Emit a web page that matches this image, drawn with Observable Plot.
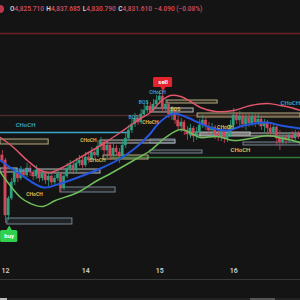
<!DOCTYPE html>
<html><head><meta charset="utf-8">
<script src="https://cdn.jsdelivr.net/npm/d3@7"></script>
<script src="https://cdn.jsdelivr.net/npm/@observablehq/plot@0.6"></script>
<style>
html,body{margin:0;padding:0;background:#141414;width:300px;height:300px;overflow:hidden;}
#wrap{position:relative;width:300px;height:300px;}
#hdr{position:absolute;top:5px;left:10px;font:600 6.5px Roboto,sans-serif;line-height:8px;white-space:nowrap;}
#hdr .k{color:#d1d4dc}#hdr .v{color:#d2485a;margin-right:2.5px}
#dot{position:absolute;left:-4px;top:5px;width:8px;height:8px;border-radius:50%;background:#b8384e;}
#sep{position:absolute;left:0;top:279px;width:300px;height:1px;background:#383838;}
#scroll{position:absolute;left:0;top:298px;width:300px;height:2px;background:#222;}
#thumb{position:absolute;left:250px;top:298px;width:25px;height:2px;background:#555;}
#thumb0{position:absolute;left:0;top:298px;width:7px;height:2px;background:#bbb;}
#chart{position:absolute;left:0;top:0;}
</style></head>
<body><div id="wrap">
<div id="chart"></div>
<div id="dot"></div>
<div id="hdr"><span class="k">O</span><span class="v">4,825.710</span><span class="k">H</span><span class="v">4,837.685</span><span class="k">L</span><span class="v">4,830.790</span><span class="k">C</span><span class="v">4,831.610</span><span class="v">−4.090 (−0.08%)</span></div>
<div id="sep"></div><div id="scroll"></div><div id="thumb"></div><div id="thumb0"></div>
</div>
<script>
// ---- data (hourly bars, bar index -1 .. 95) ----
const firstOpen = 4811;
const closes = [4806,4751,4768,4784,4794,4788,4796,4791,4798,4794,
4790,4796,4788,4792,4786,4790,4784,4788,4792,4778,
4790,4798,4801,4796,4803,4806,4801,4809,4806,4814,
4811,4820,4824,4816,4821,4811,4818,4814,4810,4821,
4828,4836,4842,4848,4844,4852,4856,4860,4856,4862,
4866,4870,4858,4862,4852,4856,4846,4840,4844,4836,
4832,4838,4830,4834,4841,4846,4840,4836,4839,4832,
4829,4834,4828,4832,4841,4851,4846,4850,4842,4848,
4843,4849,4844,4847,4840,4844,4838,4834,4839,4828,
4824,4829,4826,4831,4828,4832,4831];
const highs = [4816,4808,4770,4788,4798,4796,4800,4798,4803,4801,
4796,4801,4798,4796,4794,4794,4792,4791,4796,4794,
4794,4803,4806,4804,4808,4811,4809,4814,4813,4819,
4818,4826,4829,4826,4826,4823,4823,4821,4818,4826,
4833,4841,4848,4853,4851,4857,4862,4865,4864,4867,
4871,4875,4876,4867,4864,4860,4858,4850,4848,4846,
4840,4842,4840,4839,4847,4851,4849,4844,4843,4841,
4838,4838,4836,4837,4846,4858,4854,4855,4853,4852,
4852,4854,4852,4852,4849,4847,4846,4842,4843,4841,
4836,4833,4832,4834,4835,4836,4835];
const lows = [4803,4743,4746,4766,4781,4784,4786,4788,4789,4790,
4786,4787,4784,4785,4782,4780,4781,4780,4785,4774,
4776,4788,4794,4792,4794,4800,4798,4799,4803,4804,
4808,4809,4816,4811,4808,4806,4809,4811,4803,4808,
4818,4826,4833,4839,4841,4842,4849,4853,4853,4854,
4858,4862,4854,4854,4848,4846,4842,4836,4834,4831,
4826,4828,4824,4826,4831,4838,4836,4832,4829,4827,
4825,4825,4823,4824,4829,4838,4842,4840,4838,4836,
4839,4840,4839,4841,4836,4834,4833,4829,4830,4821,
4816,4821,4822,4823,4825,4826,4827];

// band lines (bar position, price)
const upperBar = [-1.6,2.6,7.1,11.4,14.6,17.8,25.3,30.8,36.3,40.5,43.8,47,50.3,53.5,56.8,60,63.2,68.1,74,79.5,85,89.2,92.4,95.7];
const upperVal = [4829,4819,4806,4796,4794,4798,4811,4821,4832,4841,4848,4854,4865,4871,4870,4865,4859,4855,4856,4861,4863,4861,4859,4856];
const midBar = [-1.6,4.9,12.3,17.8,24.3,30.8,37.3,41.5,43.8,47,49.3,51.9,54.5,59,63.2,67.5,72,77.2,85,89.2,95.7];
const midVal = [4806,4792,4779,4783,4790,4798,4808,4817,4823,4833,4842,4849,4853,4849,4843,4838,4836,4841,4844,4841,4838];
const lowerBar = [-1.6,1,4.9,8.1,12,16.2,23.4,29.8,34.1,41.5,47,51.9,56.8,61,63.2,68.8,74,79.5,85,90.2,95.7];
const lowerVal = [4794,4783,4769,4763,4760,4766,4774,4786,4793,4806,4816,4829,4837,4832,4829,4830,4826,4828,4831,4828,4824];

// horizontal levels
const levelPrice = [4933, 4851, 4834, 4809];
const levelFrom  = [-1.62, -1.62, -1.62, 34];
const levelTo    = [95.68, 95.68, 40.5, 95.68];
const levelKind  = ["red", "brown", "cyan", "green"];

// zones
const zoneFrom = [-1.62,-1.62,10.4,17.8,0.6,31.8,30.8,52.5,47,62.3,47,60,47,63.2,77.2];
const zoneTo   = [14,3.9,30.8,35.7,21.7,46.4,55.1,68.8,61,95.68,55.1,79.5,63.9,95.68,95.68];
const zoneTop  = [4827,4798,4797,4779,4748,4811,4826,4866,4858,4853,4827,4834,4816,4833,4824];
const zoneBot  = [4822,4794,4793,4774,4742,4807,4823,4863,4854,4849,4823,4831,4813,4830,4821];
const zoneKind = ["khaki","white","white","grey","grey","khaki","white","khaki","white","khaki","grey","white","grey","white","grey"];

// structure labels
const tagText  = ["CHoCH","CHoCH","CHoCH","CHoCH","CHoCH","BOS","BOS","CHoCH","CHoCH","CHoCH","CHoCH","BOS","CHoCH"];
const tagBar   = [6.5,92.4,76.2,9.4,5.8,44.8,41.5,49.3,47,26.9,29.8,55.1,71.3];
const tagPrice = [4841,4863,4816,4772,4796,4864,4849,4874,4844,4826,4806,4857,4839];
const tagKind  = ["cyan","cyan","khaki","khaki","cyan","cyan","cyan","cyan","khaki","khaki","khaki","khaki","khaki"];
const tagBig   = [true,true,true,false,false,false,false,false,false,false,false,false,false];

// signals
const signalText = ["sell","buy"];
const signalBar = [51.1, 1.2];
const signalPrice = [4884, 4730];

// x axis
const tickBars = [0, 26, 50, 74];
const tickLabels = ["12", "14", "15", "16"];

// ---- build ----
const candles = closes.map((c, k) => ({
  i: k - 1, o: k ? closes[k - 1] : firstOpen, c, h: highs[k], l: lows[k]
}));
const up = "#2f9f80", down = "#d2485a";
const pts = (b, v) => b.map((x, k) => ({x, y: v[k]}));
const levelColor = {red: "#6a2028", brown: "#4e2a2a", cyan: "#3aa6c8", green: "#2f7a35"};
const zoneColor = {khaki: "#cfc58f", white: "#d4d4d4", grey: "#8798a8"};
const tagColor = {cyan: "#3aa6c8", khaki: "#e2c35a"};
const levels = levelPrice.map((p, k) => ({p, a: levelFrom[k], b: levelTo[k], kind: levelKind[k]}));
const zones = zoneFrom.map((a, k) => ({a, b: zoneTo[k], t: zoneTop[k], d: zoneBot[k], kind: zoneKind[k]}));
const tags = tagText.map((t, k) => ({t, x: tagBar[k], y: tagPrice[k], kind: tagKind[k], big: tagBig[k]}));
const sell = [{t: signalText[0], x: signalBar[0], y: signalPrice[0]}];
const buy = [{t: signalText[1], x: signalBar[1], y: signalPrice[1]}];

const chart = Plot.plot({
  width: 300, height: 300,
  marginTop: 0, marginBottom: 38, marginLeft: 0, marginRight: 0,
  style: {background: "transparent", color: "#cfcfcf", fontFamily: "Roboto, sans-serif", overflow: "visible"},
  x: {domain: [-1.62, 95.68], axis: null},
  y: {domain: [4704, 4966], axis: null},
  marks: [
    Plot.ruleY(levels, {y: "p", x1: "a", x2: "b", stroke: d => levelColor[d.kind], strokeWidth: 1.5}),
    Plot.rect(zones, {x1: "a", x2: "b", y1: "d", y2: "t", fill: d => zoneColor[d.kind], fillOpacity: 0.12, stroke: d => zoneColor[d.kind], strokeWidth: 1, strokeOpacity: 0.85}),
    Plot.ruleX(candles, {x: "i", y1: "l", y2: "h", stroke: d => d.c >= d.o ? up : down, strokeWidth: 0.8}),
    Plot.rect(candles, {x1: d => d.i - 0.38, x2: d => d.i + 0.38, y1: "o", y2: "c", fill: d => d.c >= d.o ? up : down, stroke: d => d.c >= d.o ? up : down, strokeWidth: 0.4}),
    Plot.line(pts(upperBar, upperVal), {x: "x", y: "y", stroke: "#e0566a", strokeWidth: 1.5, curve: "catmull-rom"}),
    Plot.line(pts(midBar, midVal), {x: "x", y: "y", stroke: "#2456e0", strokeWidth: 2, curve: "catmull-rom"}),
    Plot.line(pts(lowerBar, lowerVal), {x: "x", y: "y", stroke: "#6fbf5a", strokeWidth: 1.5, curve: "catmull-rom"}),
    Plot.text(tags.filter(d => !d.big), {x: "x", y: "y", text: "t", fill: d => tagColor[d.kind], fontSize: 5, fontWeight: 600}),
    Plot.text(tags.filter(d => d.big), {x: "x", y: "y", text: "t", fill: d => tagColor[d.kind], fontSize: 6, fontWeight: 600, textAnchor: d => d.x > 90 ? "start" : "middle"}),
    // sell signal
    Plot.rect(sell, {x1: d => d.x - 3.1, x2: d => d.x + 3.1, y1: d => d.y - 5, y2: d => d.y + 5, fill: "#e3242b", rx: 1.5}),
    Plot.dot(sell, {x: "x", y: d => d.y - 5.5, symbol: "triangle", r: 2.2, fill: "#e3242b", rotate: 180}),
    Plot.text(sell, {x: "x", y: "y", text: "t", fill: "white", fontSize: 6, fontWeight: 700}),
    // buy signal
    Plot.rect(buy, {x1: d => d.x - 2.8, x2: d => d.x + 2.8, y1: d => d.y - 6, y2: d => d.y + 6, fill: "#2fd14e", rx: 1.5}),
    Plot.dot(buy, {x: "x", y: d => d.y + 7, symbol: "triangle", r: 2.6, fill: "#2fd14e"}),
    Plot.text(buy, {x: "x", y: "y", text: "t", fill: "white", fontSize: 6, fontWeight: 700}),
    Plot.axisX({ticks: tickBars, tickFormat: d => tickLabels[tickBars.indexOf(d)], tickSize: 0, tickPadding: 6, fontSize: 7, fontWeight: 600, label: null, fill: "#d0d0d0"})
  ]
});
document.getElementById("chart").appendChild(chart);
</script>
</body></html>
